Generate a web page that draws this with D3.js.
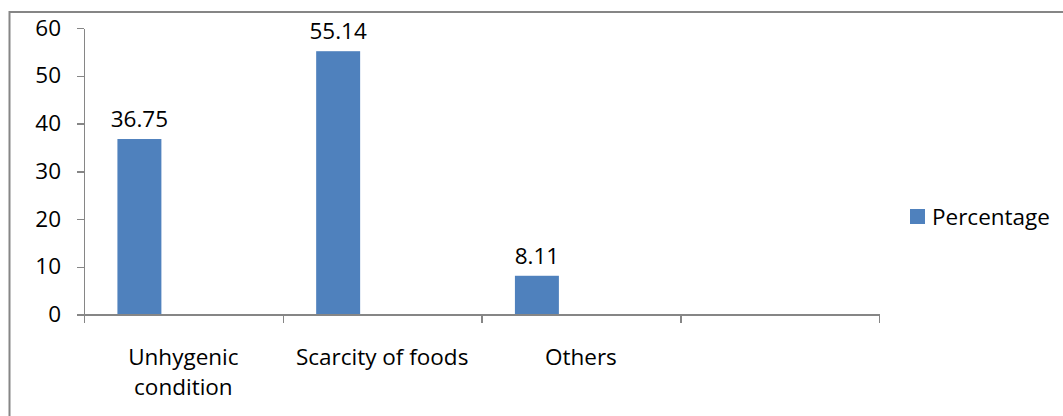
<!DOCTYPE html>
<html>
<head>
<meta charset="utf-8">
<script src="https://cdn.jsdelivr.net/npm/d3@7"></script>
<style>
  html, body { margin: 0; padding: 0; background: #fff; }
  svg { display: block; font-family: "Open Sans", "Noto Sans", sans-serif; }
  .axis path, .axis line { stroke: #868686; stroke-width: 1.5; shape-rendering: crispEdges; }
  .axis text { fill: #000; font-size: 22.5px; font-family: "Open Sans", "Noto Sans", sans-serif; }
</style>
</head>
<body>
<svg id="chart" width="1063" height="416"></svg>
<script>
// Causes and their share (%)
const categories = ["Unhygenic condition", "Scarcity of foods", "Others", ""];
const percentage = [36.75, 55.14, 8.11, null];
const seriesName = "Percentage";
const yTicks = [0, 10, 20, 30, 40, 50, 60];

const W = 1063, H = 416;
const plot = { left: 84, right: 879, top: 28, bottom: 314.5 };
const barColor = "#4F81BD";
const fontSize = 22.5;

const svg = d3.select("#chart");

// outer chart frame (top and left edges)
svg.append("path")
  .attr("d", `M9.5,${H} V12 H${W}`)
  .attr("fill", "none")
  .attr("stroke", "#868686")
  .attr("stroke-width", 2);

const x = d3.scaleBand().domain(categories).range([plot.left, plot.right]).padding(0);
// each category holds three bar slots; the series occupies the first one
const slot = d3.scaleBand().domain([0, 1, 2]).range([0, x.bandwidth()])
  .paddingInner(0).paddingOuter(0.76);
const y = d3.scaleLinear().domain([0, 60]).range([plot.bottom, plot.top]);

// bars
const rows = categories.map((c, i) => ({ cat: c, v: percentage[i] })).filter(d => d.v != null);
svg.append("g").selectAll("rect").data(rows).join("rect")
  .attr("x", d => x(d.cat) + slot(0))
  .attr("width", slot.bandwidth())
  .attr("y", d => y(d.v))
  .attr("height", d => y(0) - y(d.v))
  .attr("fill", barColor);

// value labels
svg.append("g").selectAll("text").data(rows).join("text")
  .attr("x", d => x(d.cat) + slot(0) + slot.bandwidth() / 2)
  .attr("y", d => y(d.v) - 12)
  .attr("text-anchor", "middle")
  .attr("font-size", fontSize)
  .attr("fill", "#000")
  .text(d => d.v.toFixed(2));

// y axis
svg.append("g").attr("class", "axis")
  .attr("transform", `translate(${plot.left},0)`)
  .call(d3.axisLeft(y).tickValues(yTicks).tickSize(7).tickSizeOuter(0).tickPadding(16).tickFormat(d3.format("d")));

// x axis: ticks sit on category boundaries
const xb = d3.scaleLinear().domain([0, categories.length]).range([plot.left, plot.right]);
svg.append("g").attr("class", "axis")
  .attr("transform", `translate(0,${plot.bottom})`)
  .call(d3.axisBottom(xb).tickValues(d3.range(categories.length + 1)).tickSize(8).tickSizeOuter(0).tickFormat(""));

// category labels, wrapped to the band width
const catG = svg.append("g").attr("font-size", fontSize).attr("fill", "#000");
categories.forEach(c => {
  if (!c) return;
  const cx = x(c) + x.bandwidth() / 2;
  const t = catG.append("text").attr("x", cx).attr("y", 365).attr("text-anchor", "middle");
  const words = c.split(" ");
  let line = [];
  let tspan = t.append("tspan").attr("x", cx).attr("dy", 0);
  words.forEach(w => {
    line.push(w);
    tspan.text(line.join(" "));
    if (tspan.node().getComputedTextLength() > x.bandwidth() - 8 && line.length > 1) {
      line.pop();
      tspan.text(line.join(" "));
      line = [w];
      tspan = t.append("tspan").attr("x", cx).attr("dy", 29.5).text(w);
    }
  });
});

// legend
const lg = svg.append("g").attr("transform", "translate(910,209)");
lg.append("rect").attr("width", 15).attr("height", 15).attr("fill", barColor);
lg.append("text").attr("x", 22).attr("y", 16)
  .attr("font-size", fontSize).attr("fill", "#000").text(seriesName);
</script>
</body>
</html>
